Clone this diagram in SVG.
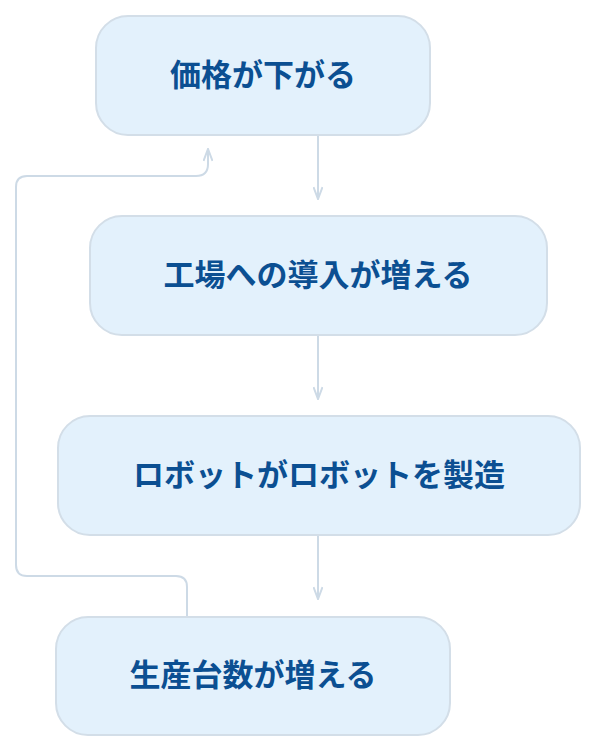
<svg xmlns="http://www.w3.org/2000/svg" width="596" height="752" viewBox="0 0 596 752">
<defs>
<style>
.node rect{fill:#E3F1FC;stroke:#D3DEE8;stroke-width:2}
.node text{font-family:"Noto Sans CJK JP","Noto Sans",sans-serif;font-weight:700;font-size:31px;fill:#0B4F92;text-anchor:middle;dominant-baseline:central}
.edge{fill:none;stroke:#CDDAE6;stroke-width:2}
</style>
<marker id="arr" viewBox="0 0 14 10" refX="13" refY="5" markerWidth="14" markerHeight="10" markerUnits="userSpaceOnUse" orient="auto">
<path d="M1,0.5 L13,5 L1,9.5" fill="none" stroke="#CDDAE6" stroke-width="2"/>
</marker>
</defs>
<rect width="596" height="752" fill="#FFFFFF"/>
<g id="connectors">
<path class="edge" d="M318,136 V199" marker-end="url(#arr)"/>
<path class="edge" d="M318,336 V399" marker-end="url(#arr)"/>
<path class="edge" d="M318,536 V599" marker-end="url(#arr)"/>
<path class="edge" d="M187,616 V587 Q187,576 176,576 H27 Q16,576 16,565 V187 Q16,176 27,176 H196 Q208,176 208,164 V149" marker-end="url(#arr)"/>
</g>
<g id="n1" class="node"><rect x="96" y="16" width="334" height="119" rx="32"/><text x="263" y="72">価格が下がる</text></g>
<g id="n2" class="node"><rect x="90" y="216" width="457" height="119" rx="32"/><text x="318" y="272">工場への導入が増える</text></g>
<g id="n3" class="node"><rect x="58" y="416" width="522" height="119" rx="32"/><text x="319" y="472">ロボットがロボットを製造</text></g>
<g id="n4" class="node"><rect x="56" y="617" width="394" height="118" rx="32"/><text x="253" y="672">生産台数が増える</text></g>
</svg>
